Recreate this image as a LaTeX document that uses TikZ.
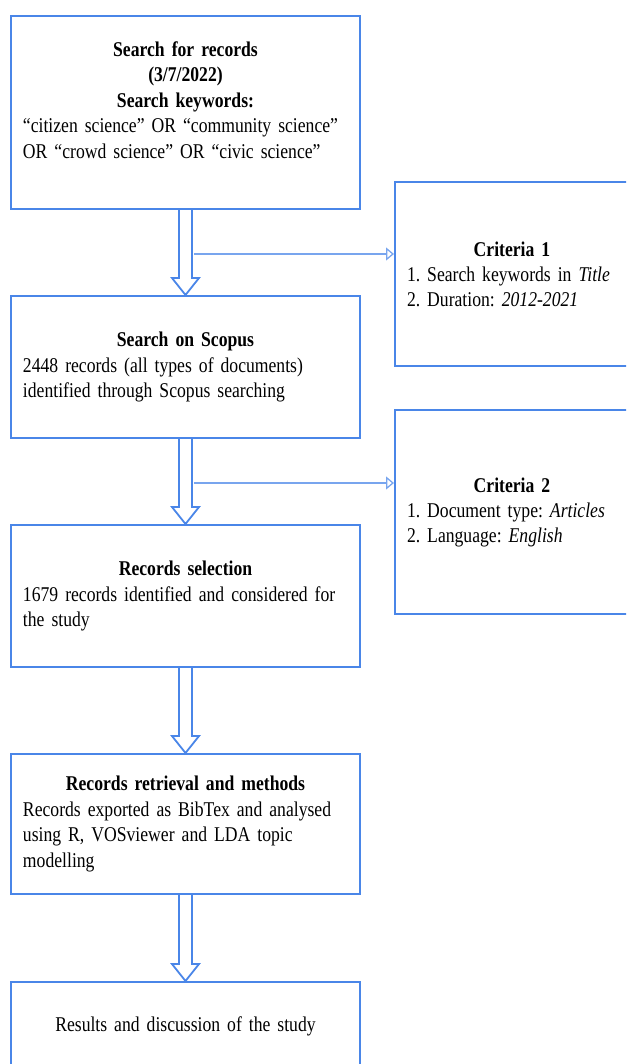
\documentclass[tikz,border=0pt]{standalone}
\usepackage{fontspec}
\setmainfont{Liberation Serif}[FakeStretch=0.84]
\usetikzlibrary{calc,arrows.meta}

\definecolor{boxblue}{RGB}{74,134,232}
\definecolor{sideblue}{RGB}{120,165,238}

\newcommand{\tightspace}{\spaceskip 4pt plus 1pt\relax}

\tikzset{
  box/.style={draw=boxblue, line width=2pt, minimum width=349pt, inner xsep=12pt,
    font={\fontsize{21}{25.5}\selectfont\frenchspacing\tightspace}},
  critbox/.style={draw=boxblue, line width=2pt, minimum width=234pt, inner xsep=12pt,
    font={\fontsize{21}{25}\selectfont\frenchspacing\tightspace}},
  arrowline/.style={draw=boxblue, line width=1.8pt, line join=miter},
  sidearrow/.style={draw=sideblue, line width=1.3pt,
    -{Triangle[open, length=8pt, width=13pt, line width=1.3pt]}}
}

% hollow block arrow from box #1 down to box #2
\newcommand{\flowarrow}[2]{%
  \draw[arrowline] ($(#1.south)+(-6.5,0)$) |- ($(#2.north)+(-13.5,17)$)
    -- (#2.north) -- ($(#2.north)+(13.5,17)$) -| ($(#1.south)+(6.5,0)$);}

\begin{document}
\begin{tikzpicture}[x=1pt,y=1pt]
\useasboundingbox (0,0) rectangle (626,-1064);
\clip (0,0) rectangle (626,-1064);

\node[box, minimum height=193pt, text width=325pt, align=left] (search) at (185.5,-112.5)
  {{\centering\bfseries Search for records\\ (3/7/2022)\\ Search keywords:\par}
   \raggedright ``citizen science'' OR ``community science''\\
   OR ``crowd science'' OR ``civic science''\\ \mbox{}};
\node[box, minimum height=142pt, text width=325pt, align=left] (scopus) at (185.5,-367)
  {{\centering\bfseries Search on Scopus\par}
   \raggedright 2448 records (all types of documents)\\ identified through Scopus searching};
\node[box, minimum height=142pt, text width=325pt, align=left] (select) at (185.5,-596)
  {{\centering\bfseries Records selection\par}
   \raggedright 1679 records identified and considered for\\ the study};
\node[box, minimum height=140pt, text width=325pt, align=left] (retrieve) at (185.5,-824)
  {{\centering\bfseries Records retrieval and methods\par}
   \raggedright Records exported as BibTex and analysed\\ using R, VOSviewer and LDA topic\\ modelling};
\node[box, minimum height=88pt, text width=325pt, align=center] (results) at (185.5,-1026)
  {Results and discussion of the study};

\node[critbox, minimum height=184pt, text width=210pt, align=left] (crit1) at (512,-274)
  {{\centering\bfseries Criteria 1\par}
   \raggedright 1. Search keywords in \textit{Title}\\ 2. Duration: \textit{2012-2021}};
\node[critbox, minimum height=204pt, text width=210pt, align=left] (crit2) at (512,-512)
  {{\centering\bfseries Criteria 2\par}
   \raggedright 1. Document type: \textit{Articles}\\ 2. Language: \textit{English}};

\flowarrow{search}{scopus}
\flowarrow{scopus}{select}
\flowarrow{select}{retrieve}
\flowarrow{retrieve}{results}

\coordinate (split1) at (194,-254);
\coordinate (split2) at (194,-483);
\draw[sidearrow] (split1) -- (split1 -| crit1.west);
\draw[sidearrow] (split2) -- (split2 -| crit2.west);
\end{tikzpicture}
\end{document}
